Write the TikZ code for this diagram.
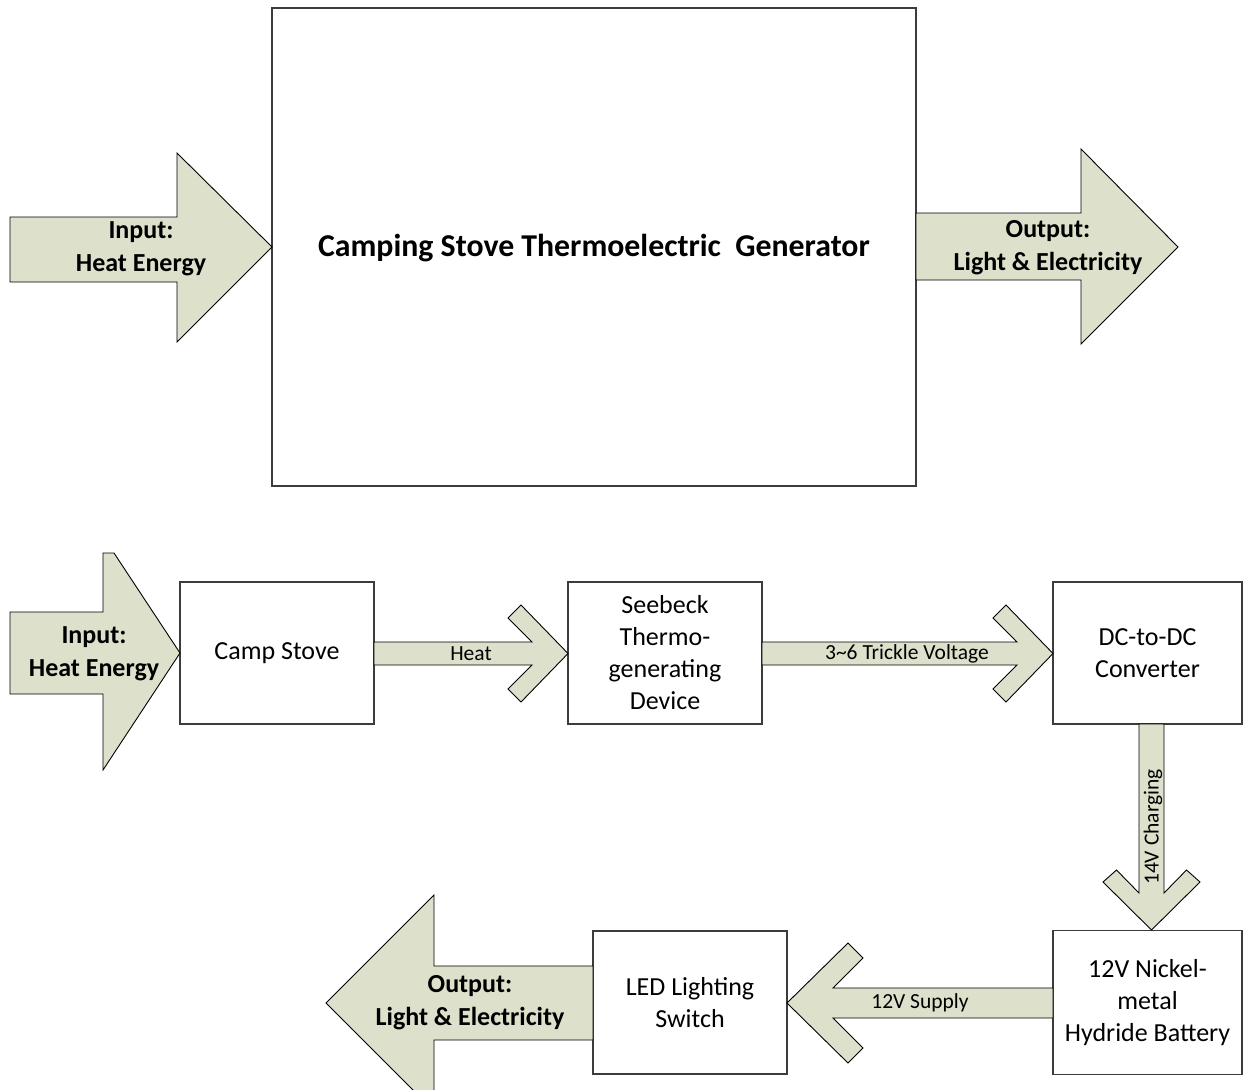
\documentclass[tikz,border=0pt]{standalone}
\usepackage{fontspec}
\setmainfont{Carlito}
\definecolor{arrowfill}{RGB}{221,224,203}
\definecolor{boxline}{RGB}{60,60,60}
\tikzset{
  blockarrow/.style={draw=black, fill=arrowfill, line width=0.9pt, line join=miter},
  box/.style={draw=boxline, line width=1.1pt, fill=white, inner sep=0pt, outer sep=0pt, align=center,
              font=\fontsize{26}{32}\selectfont},
  biglabel/.style={align=center, inner sep=0pt, font=\fontsize{26}{33}\selectfont\bfseries},
  smalllabel/.style={inner sep=0pt, font=\fontsize{21.5}{24}\selectfont},
}
\begin{document}
\begin{tikzpicture}[x=1pt, y=-1pt]
\useasboundingbox (0,0) rectangle (1243,1090);
\clip (0,0) rectangle (1243,1090);

% ---------- top overview ----------
\node[box, minimum width=644pt, minimum height=478pt] (big) at (594,247) {};
\node[biglabel, font=\fontsize{31.8}{36}\selectfont\bfseries] (title) at (594,248) {Camping Stove Thermoelectric\ \ Generator};

\draw[blockarrow] (10,217) -- (177,217) -- (177,153) -- (272,247) -- (177,342) -- (177,282) -- (10,282) -- cycle;
\node[biglabel] (inTop) at (141,249) {Input:\\Heat Energy};

\draw[blockarrow] (916,213) -- (1081,213) -- (1081,149) -- (1178,247) -- (1081,344) -- (1081,280) -- (916,280) -- cycle;
\node[biglabel] (outTop) at (1048,248) {Output:\\Light \& Electricity};

% ---------- detailed chain ----------
\node[box, minimum width=194pt, minimum height=142pt] (stove) at (277,653) {Camp Stove};
\node[box, minimum width=194pt, minimum height=142pt] (seebeck) at (665,653) {Seebeck\\Thermo-\\generating\\Device};
\node[box, minimum width=189pt, minimum height=142pt] (dc) at (1147.5,653) {DC-to-DC\\Converter};
\node[box, minimum width=189pt, minimum height=144pt] (batt) at (1147.5,1002.5) {12V Nickel-\\metal\\Hydride Battery};
\node[box, minimum width=194pt, minimum height=143pt] (led) at (690,1002.5) {LED Lighting\\Switch};

% input arrow (head clipped at top)
\draw[blockarrow] (10,612) -- (103,612) -- (103,553) -- (114,553) -- (180,653) -- (103,770) -- (103,694) -- (10,694) -- cycle;
\node[biglabel] (inBot) at (94,654) {Input:\\Heat Energy};

% Heat
\draw[blockarrow] (374,642) -- (532,642) -- (508,618) -- (521,605) -- (568,653.5) -- (521,702) -- (508,689) -- (532,665) -- (374,665) -- cycle;
\node[smalllabel] (heat) at (471,654) {Heat};

% Trickle voltage
\draw[blockarrow] (762,642) -- (1017,642) -- (993,618) -- (1006,605) -- (1053,653.5) -- (1006,702) -- (993,689) -- (1017,665) -- (762,665) -- cycle;
\node[smalllabel] (trickle) at (907,654) {3\textasciitilde6 Trickle Voltage};

% 14V charging
\draw[blockarrow] (1139,724) -- (1139,893) -- (1116.5,870) -- (1103,882) -- (1151.5,930) -- (1200,882) -- (1186.5,870) -- (1164,893) -- (1164,724) -- cycle;
\node[smalllabel, rotate=90] (charging) at (1153,827) {14V Charging};

% 12V supply
\draw[blockarrow] (1053,988) -- (833,988) -- (863,958) -- (848,943) -- (787,1003) -- (848,1063) -- (863,1048) -- (833,1018) -- (1053,1018) -- cycle;
\node[smalllabel] (supply) at (920,1003) {12V Supply};

% output arrow
\draw[blockarrow] (593,966) -- (434,966) -- (434,895) -- (326,1003) -- (434,1111) -- (434,1040) -- (593,1040) -- cycle;
\node[biglabel] (outBot) at (470,1003) {Output:\\Light \& Electricity};
\end{tikzpicture}
\end{document}
